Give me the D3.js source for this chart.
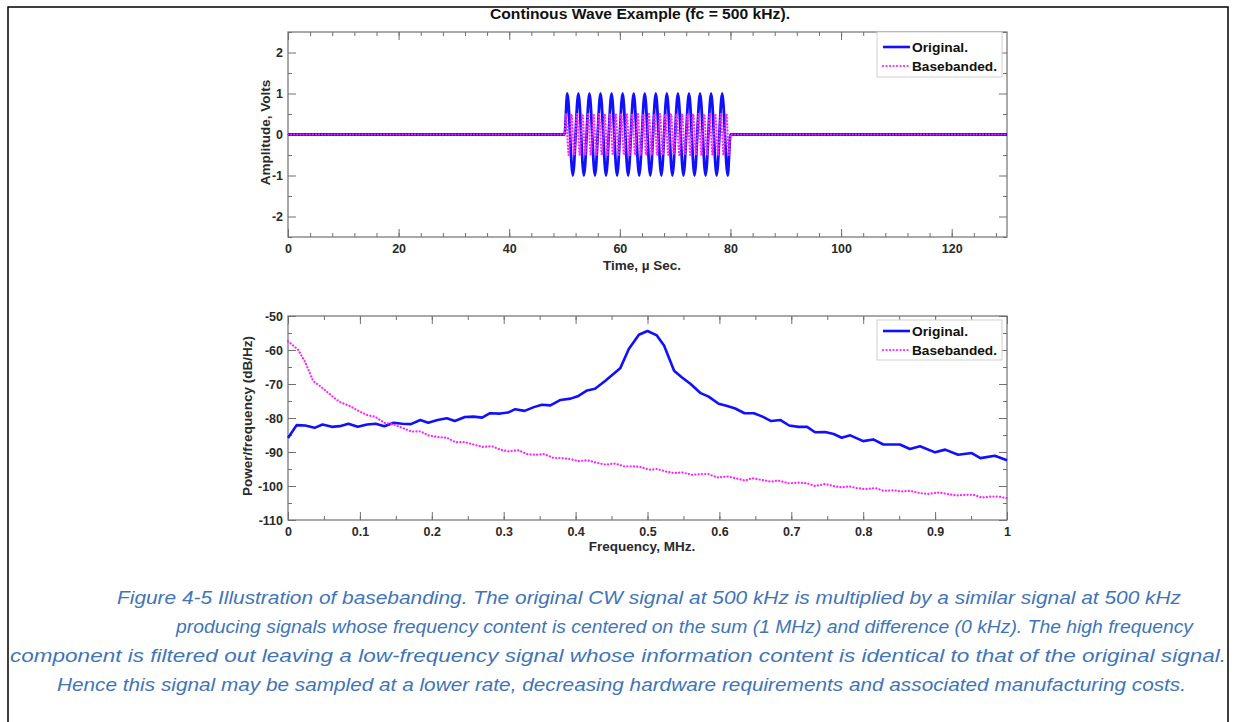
<!DOCTYPE html>
<html><head><meta charset="utf-8">
<script src="https://cdn.jsdelivr.net/npm/d3@7/dist/d3.min.js"></script>
<style>body{margin:0;background:#fff}svg{display:block}</style>
</head><body><svg id="c" width="1236" height="722"></svg>
<script>
// ---------- DATA ----------
const titleText = "Continous Wave Example (fc = 500 kHz).";
const seriesNames = ["Original.", "Basebanded."];
// Time domain (µs, volts) - extrema
const origT = [0,50,50.5,51.5,52.5,53.5,54.5,55.5,56.5,57.5,58.5,59.5,60.5,61.5,62.5,63.5,64.5,65.5,66.5,67.5,68.5,69.5,70.5,71.5,72.5,73.5,74.5,75.5,76.5,77.5,78.5,79.5,80,130];
const origV = [0,0,1,-1,1,-1,1,-1,1,-1,1,-1,1,-1,1,-1,1,-1,1,-1,1,-1,1,-1,1,-1,1,-1,1,-1,1,-1,0,0];
const bbT = [0,50,50.25,50.75,51.25,51.75,52.25,52.75,53.25,53.75,54.25,54.75,55.25,55.75,56.25,56.75,57.25,57.75,58.25,58.75,59.25,59.75,60.25,60.75,61.25,61.75,62.25,62.75,63.25,63.75,64.25,64.75,65.25,65.75,66.25,66.75,67.25,67.75,68.25,68.75,69.25,69.75,70.25,70.75,71.25,71.75,72.25,72.75,73.25,73.75,74.25,74.75,75.25,75.75,76.25,76.75,77.25,77.75,78.25,78.75,79.25,79.75,80,130];
const bbV = [0,0,0.5,-0.5,0.5,-0.5,0.5,-0.5,0.5,-0.5,0.5,-0.5,0.5,-0.5,0.5,-0.5,0.5,-0.5,0.5,-0.5,0.5,-0.5,0.5,-0.5,0.5,-0.5,0.5,-0.5,0.5,-0.5,0.5,-0.5,0.5,-0.5,0.5,-0.5,0.5,-0.5,0.5,-0.5,0.5,-0.5,0.5,-0.5,0.5,-0.5,0.5,-0.5,0.5,-0.5,0.5,-0.5,0.5,-0.5,0.5,-0.5,0.5,-0.5,0.5,-0.5,0.5,-0.5,0,0];
// Spectrum (MHz, dB/Hz)
const origF = [0,0.012,0.024,0.037,0.048,0.061,0.072,0.084,0.097,0.11,0.122,0.134,0.147,0.159,0.171,0.184,0.195,0.208,0.221,0.232,0.246,0.258,0.27,0.281,0.295,0.306,0.316,0.329,0.342,0.353,0.365,0.379,0.393,0.404,0.416,0.427,0.441,0.462,0.474,0.488,0.5,0.513,0.523,0.537,0.548,0.56,0.574,0.585,0.599,0.611,0.622,0.635,0.648,0.66,0.672,0.685,0.697,0.71,0.722,0.733,0.747,0.759,0.77,0.782,0.8,0.814,0.828,0.851,0.865,0.879,0.9,0.914,0.932,0.951,0.963,0.983,1.0];
const origP = [-85.9,-82.1,-82.2,-82.9,-81.9,-82.6,-82.4,-81.7,-82.6,-81.9,-81.7,-82.4,-81.4,-81.7,-81.8,-80.6,-81.4,-80.6,-80.1,-80.9,-79.7,-79.6,-79.9,-78.6,-78.7,-78.4,-77.4,-77.9,-76.8,-76.1,-76.3,-74.7,-74.3,-73.5,-71.9,-71.4,-69.1,-65.4,-59.7,-55.5,-54.4,-55.7,-58.7,-66.1,-68.1,-70.0,-72.7,-73.7,-75.8,-76.5,-77.2,-78.6,-78.6,-79.6,-80.9,-80.6,-82.2,-82.6,-82.6,-84.2,-84.1,-84.7,-85.8,-85.1,-86.8,-86.3,-87.8,-87.8,-89.1,-88.3,-90.1,-89.3,-90.8,-90.3,-91.8,-91.1,-92.4];
const bbF = [0,0.014,0.024,0.035,0.047,0.061,0.072,0.086,0.098,0.111,0.121,0.134,0.147,0.159,0.172,0.184,0.195,0.209,0.221,0.233,0.246,0.258,0.271,0.284,0.295,0.307,0.321,0.332,0.344,0.356,0.37,0.381,0.393,0.404,0.416,0.43,0.441,0.455,0.467,0.479,0.49,0.502,0.513,0.525,0.537,0.548,0.562,0.574,0.585,0.597,0.611,0.622,0.636,0.645,0.659,0.671,0.682,0.696,0.71,0.722,0.733,0.747,0.759,0.77,0.78,0.791,0.803,0.817,0.828,0.842,0.854,0.865,0.879,0.891,0.905,0.916,0.93,0.942,0.953,0.965,0.979,0.988,1.0];
const bbP = [-57.4,-59.9,-63.6,-69.1,-71.0,-73.5,-75.3,-76.5,-77.9,-79.2,-79.6,-81.4,-81.9,-82.9,-84.0,-83.9,-85.1,-85.6,-85.8,-87.1,-87.1,-87.8,-88.5,-88.3,-89.3,-89.8,-89.5,-90.6,-90.8,-90.6,-91.8,-91.8,-92.1,-92.7,-92.4,-93.2,-93.7,-93.4,-94.2,-94.2,-94.4,-95.2,-95.0,-95.7,-96.2,-96.0,-96.7,-96.5,-96.5,-97.5,-97.2,-97.7,-98.4,-97.7,-98.2,-98.7,-98.4,-99.2,-99.0,-99.2,-100.0,-99.4,-100.0,-100.4,-100.1,-100.6,-100.9,-100.6,-101.4,-101.3,-101.6,-101.4,-102.1,-102.3,-101.9,-102.3,-102.8,-102.6,-102.6,-103.4,-103.1,-103.1,-103.6];
const timeTicks = [0,20,40,60,80,100,120];
const ampTicks = [-2,-1,0,1,2];
const freqTicks = [0,0.1,0.2,0.3,0.4,0.5,0.6,0.7,0.8,0.9,1];
const psdTicks = [-110,-100,-90,-80,-70,-60,-50];
const captionLines = [
 "Figure 4-5  Illustration of basebanding. The original CW signal at 500 kHz is multiplied by a similar signal at 500 kHz",
 "producing signals whose frequency content is centered on the sum (1 MHz) and difference (0 kHz). The high frequency",
 "component is filtered out leaving a low-frequency signal whose information content is identical to that of the original signal.",
 "Hence this signal may be sampled at a lower rate, decreasing hardware requirements and associated manufacturing costs."
];

// ---------- DRAW ----------
const svg = d3.select("#c");
const BLUE = "#1010ff", MAG = "#ff22ff", AX = "#707070", TXT = "#2a2a2a";
const FONT = "'Liberation Sans', Arial, sans-serif";

svg.append("rect").attr("x",8).attr("y",7).attr("width",1220).attr("height",740)
  .attr("fill","none").attr("stroke","#000").attr("stroke-width",1.5);

function panel(opt){
  const {x, y, xt, yt, xminor, yminor, xlabel, ylabel, ylabelX, fmtX, xlabY} = opt;
  const g = svg.append("g");
  const [x0,x1] = x.range(), [y0,y1] = y.range(); // y0 bottom
  const mk = (axis, tr) => {
    const a = g.append("g").attr("transform", tr).call(axis);
    a.select(".domain").remove();
    a.selectAll("line").attr("stroke", AX).attr("stroke-width", 1);
    a.selectAll("text").attr("font-family", FONT).attr("font-weight","bold")
      .attr("font-size", 12.5).attr("fill", TXT);
    return a;
  };
  mk(d3.axisBottom(x).tickValues(xt).tickSize(-8).tickPadding(7).tickFormat(fmtX), `translate(0,${y0})`);
  mk(d3.axisBottom(x).tickValues(xminor).tickSize(-4).tickFormat(""), `translate(0,${y0})`);
  mk(d3.axisTop(x).tickValues(xt).tickSize(-8).tickFormat(""), `translate(0,${y1})`);
  mk(d3.axisTop(x).tickValues(xminor).tickSize(-4).tickFormat(""), `translate(0,${y1})`);
  mk(d3.axisLeft(y).tickValues(yt).tickSize(-8).tickPadding(5).tickFormat(d=>String(d)), `translate(${x0},0)`);
  mk(d3.axisLeft(y).tickValues(yminor).tickSize(-4).tickFormat(""), `translate(${x0},0)`);
  mk(d3.axisRight(y).tickValues(yt).tickSize(-8).tickFormat(""), `translate(${x1},0)`);
  mk(d3.axisRight(y).tickValues(yminor).tickSize(-4).tickFormat(""), `translate(${x1},0)`);
  g.append("rect").attr("x",x0).attr("y",y1).attr("width",x1-x0).attr("height",y0-y1)
    .attr("fill","none").attr("stroke",AX).attr("stroke-width",1.2);
  g.append("text").attr("x",642).attr("y",xlabY).attr("text-anchor","middle")
    .attr("font-family",FONT).attr("font-weight","bold").attr("font-size",13.5).attr("fill",TXT).text(xlabel);
  g.append("text").attr("transform",`translate(${ylabelX},${(y0+y1)/2 - 2}) rotate(-90)`).attr("text-anchor","middle")
    .attr("font-family",FONT).attr("font-weight","bold").attr("font-size",13.5).attr("fill",TXT).text(ylabel);
  return g;
}
function legend(x0, y0, h, r1, r2){
  const g = svg.append("g");
  g.append("rect").attr("x",x0).attr("y",y0).attr("width",125).attr("height",h)
    .attr("fill","#fff").attr("stroke","#d0d0d0").attr("stroke-width",1);
  g.append("line").attr("x1",x0+6).attr("x2",x0+33).attr("y1",r1).attr("y2",r1)
    .attr("stroke",BLUE).attr("stroke-width",2.6);
  g.append("line").attr("x1",x0+6).attr("x2",x0+33).attr("y1",r2).attr("y2",r2)
    .attr("stroke",MAG).attr("stroke-width",2.2).attr("stroke-dasharray","0.1,3.4").attr("stroke-linecap","round");
  [r1,r2].forEach((r,i)=>g.append("text").attr("x",x0+35).attr("y",r+4.5)
    .attr("font-family",FONT).attr("font-weight","bold").attr("font-size",13).attr("fill","#111")
    .attr("textLength", i ? 85 : 56).attr("lengthAdjust","spacingAndGlyphs").text(seriesNames[i]));
}

// Top panel
const xT = d3.scaleLinear().domain([0,130]).range([288,1007]);
const yT = d3.scaleLinear().domain([-2.5,2.5]).range([237,32]);
panel({x:xT, y:yT, xt:timeTicks, yt:ampTicks,
  xminor:d3.range(0,131,4), yminor:[-2.5,-1.5,-0.5,0.5,1.5,2.5],
  xlabel:"Time, \u00b5 Sec.", ylabel:"Amplitude, Volts", ylabelX:270, fmtX:d=>String(d), xlabY:270});
const lineT = d3.line().x(d=>xT(d[0])).y(d=>yT(d[1])).curve(d3.curveMonotoneX);
svg.append("path").datum(origT.map((t,i)=>[t,origV[i]])).attr("d",lineT)
  .attr("fill","none").attr("stroke",BLUE).attr("stroke-width",2.8);
svg.append("path").datum(bbT.map((t,i)=>[t,bbV[i]])).attr("d",lineT)
  .attr("fill","none").attr("stroke",MAG).attr("stroke-width",2.2).attr("stroke-dasharray","0.1,3").attr("stroke-linecap","round");
legend(877,32,45,47,66);
svg.append("text").attr("x",640).attr("y",19).attr("text-anchor","middle")
  .attr("font-family",FONT).attr("font-weight","bold").attr("font-size",14).attr("fill","#111")
  .attr("textLength",300).attr("lengthAdjust","spacingAndGlyphs").text(titleText);

// Bottom panel
const xF = d3.scaleLinear().domain([0,1]).range([288,1007]);
const yF = d3.scaleLinear().domain([-110,-50]).range([520,316]);
panel({x:xF, y:yF, xt:freqTicks, yt:psdTicks,
  xminor:d3.range(0,1.001,0.05), yminor:d3.range(-105,-50,5),
  xlabel:"Frequency, MHz.", ylabel:"Power/frequency (dB/Hz)", ylabelX:252, fmtX:d=>String(d), xlabY:551});
const lineF = d3.line().x(d=>xF(d[0])).y(d=>yF(d[1]));
svg.append("path").datum(origF.map((f,i)=>[f,origP[i]])).attr("d",lineF)
  .attr("fill","none").attr("stroke",BLUE).attr("stroke-width",2.6).attr("stroke-linejoin","round");
svg.append("path").datum(bbF.map((f,i)=>[f,bbP[i]])).attr("d",lineF)
  .attr("fill","none").attr("stroke",MAG).attr("stroke-width",2.2).attr("stroke-dasharray","0.1,3.2").attr("stroke-linecap","round");
legend(877,320,40,331,350);

// Caption
const capX = [117, 176, 10, 57];
const capW = [1064, 1017, 1216, 1129];
captionLines.forEach((s,i)=>svg.append("text").attr("x",capX[i]).attr("y",604+i*29)
  .attr("font-family",FONT).attr("font-style","italic").attr("font-size",19).attr("fill","#3f75b8")
  .attr("textLength",capW[i]).attr("lengthAdjust","spacingAndGlyphs").text(s));
</script></body></html>
